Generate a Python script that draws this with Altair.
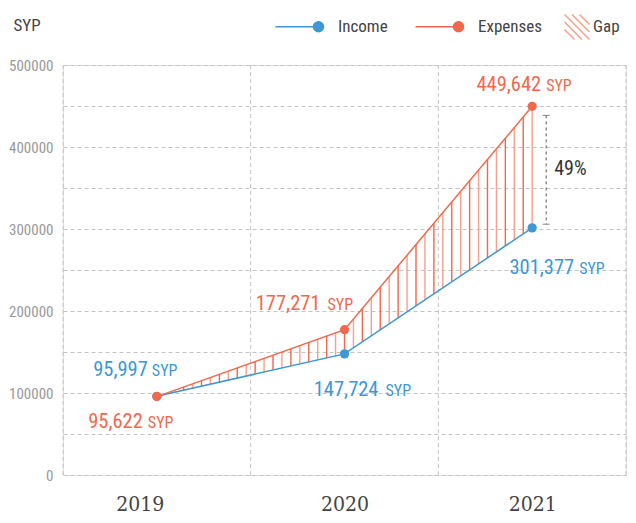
import altair as alt
import pandas as pd
import numpy as np

# ---------------- data ----------------
years = [2019, 2020, 2021]
income = [95997, 147724, 301377]
expenses = [95622, 177271, 449642]
series_names = ["Income", "Expenses", "Gap"]
y_ticks = list(range(0, 500001, 50000))

# ---------------- style ----------------
BLUE = "#3d98d3"
RED = "#f2684c"
SALMON = "#f7a08b"
GRID = "#c4c4c4"
NARROW = "Liberation Sans Narrow, Roboto Condensed, Roboto, sans-serif"
SLAB = "DejaVu Serif Condensed, DejaVu Serif, serif"
W, H = 563, 410

wide = pd.DataFrame({"year": years, "income": income, "expenses": expenses})
long = pd.concat([
    pd.DataFrame({"year": years, "value": income, "series": "Income"}),
    pd.DataFrame({"year": years, "value": expenses, "series": "Expenses"}),
], ignore_index=True)

# hatch decoration derived from the two series
steps_per_year = 21
hx = np.linspace(years[0], years[-1], steps_per_year * (len(years) - 1) + 1)[1:]
hatch = pd.DataFrame({
    "x": hx,
    "lo": np.interp(hx, years, income),
    "hi": np.interp(hx, years, expenses),
    "k": np.arange(len(hx)) % 2,
})

bounds = [y - 0.5 for y in years] + [years[-1] + 0.5]
vgrid = pd.DataFrame({"b": bounds})
legend_df = pd.DataFrame({"series": series_names})

x_scale = alt.Scale(domain=[bounds[0], bounds[-1]], nice=False, zero=False)
y_scale = alt.Scale(domain=[0, 500000], nice=False)

x_axis = alt.Axis(values=years, format="d", grid=False, ticks=False, domain=False,
                  labelFont=SLAB, labelFontSize=21, labelColor="#444",
                  labelPadding=18, title=None,
                  labelOffset={"condition": {"test": f"datum.value == {years[0]}", "value": -17},
                               "value": 0})
y_axis = alt.Axis(values=y_ticks, grid=True, gridDash=[4, 3], gridColor=GRID,
                  ticks=False, domain=False,
                  labelExpr="datum.value % 100000 == 0 ? datum.value : ''",
                  labelFont=NARROW, labelFontSize=15, labelColor="#999",
                  labelPadding=10,
                  title="SYP", titleAngle=0, titleAlign="left",
                  titleBaseline="alphabetic", titleX=-50, titleY=-35,
                  titleFont=NARROW, titleFontSize=17, titleFontWeight="normal",
                  titleColor="#444")


def X(field):
    return alt.X(field, type="quantitative", scale=x_scale, axis=x_axis)


def Y(field):
    return alt.Y(field, type="quantitative", scale=y_scale, axis=y_axis)


# vertical dashed grid at band boundaries
grid_layer = alt.Chart(vgrid).mark_rule(strokeDash=[4, 3], color=GRID, strokeWidth=1).encode(
    x=X("b")
)

# hatch
hatch_dark = alt.Chart(hatch).transform_filter("datum.k == 0").mark_rule(
    color=RED, strokeWidth=1.4).encode(x=X("x"), y=Y("lo"), y2="hi")
hatch_light = alt.Chart(hatch).transform_filter("datum.k == 1").mark_rule(
    color=SALMON, strokeWidth=1.4).encode(x=X("x"), y=Y("lo"), y2="hi")

color_enc = alt.Color("series:N", scale=alt.Scale(domain=["Income", "Expenses"], range=[BLUE, RED]),
                      legend=None)

lines = alt.Chart(long).mark_line(strokeWidth=1.5).encode(
    x=X("year"), y=Y("value"), color=color_enc, detail="series:N",
    order=alt.Order("year:Q"))
points = alt.Chart(long).mark_circle(size=85, opacity=1).encode(
    x=X("year"), y=Y("value"), color=color_enc)

# value labels: (series, year, dx number, dx unit, dy)
label_specs = [
    ("Income", 2019, -9, -5, -20),
    ("Expenses", 2019, -14, -9, 31),
    ("Expenses", 2020, -24, -17, -20),
    ("Income", 2020, 34, 41, 42),
    ("Expenses", 2021, 9, 14, -15),
    ("Income", 2021, 42, 47, 46),
]
label_layers = []
for s, yr, dxn, dxu, dy in label_specs:
    col = BLUE if s == "Income" else RED
    base = alt.Chart(long).transform_filter(
        f"datum.series == '{s}' && datum.year == {yr}")
    label_layers.append(base.mark_text(align="right", baseline="alphabetic", dx=dxn, dy=dy,
                                       font=NARROW, fontSize=20.5, color=col).encode(
        x=X("year"), y=Y("value"), text=alt.Text("value:Q", format=",")))
    label_layers.append(base.mark_text(align="left", baseline="alphabetic", dx=dxu, dy=dy,
                                       font=NARROW, fontSize=16, color=col).encode(
        x=X("year"), y=Y("value"), text=alt.value("SYP")))

# gap bracket and percentage for the last year
last = alt.Chart(wide).transform_filter(f"datum.year == {years[-1]}").transform_calculate(
    top="datum.expenses - (datum.expenses - datum.income) * 0.075",
    bot="datum.income + (datum.expenses - datum.income) * 0.03",
    mid="(datum.expenses + datum.income) / 2",
    pct="(datum.expenses - datum.income) / datum.income",
)
bracket = last.mark_rule(strokeDash=[3, 3], color="#555", strokeWidth=1, xOffset=14).encode(
    x=X("year"), y=Y("top:Q"), y2="bot:Q")
cap_top = last.mark_tick(orient="horizontal", size=7, thickness=1, color="#555", xOffset=14).encode(
    x=X("year"), y=Y("top:Q"))
cap_bot = last.mark_tick(orient="horizontal", size=7, thickness=1, color="#555", xOffset=14).encode(
    x=X("year"), y=Y("bot:Q"))
pct_text = last.mark_text(align="left", baseline="middle", dx=22, dy=2, font=NARROW,
                          fontSize=20, color="#333").encode(
    x=X("year"), y=Y("mid:Q"), text=alt.Text("pct:Q", format=".0%"))

# legend (symbols drawn as custom paths, unit = 5px)
pad_box = "M-9.6,-2.6L-9.6,-2.6M-9.6,2.6L-9.6,2.6"  # invisible extent points
path_line = "M-8.6,0L0,0M-1,0A1,1,0,1,0,1,0A1,1,0,1,0,-1,0Z" + pad_box
hatch_parts = []
for c in (-3.0, -1.5, 0.0, 1.5, 3.0):
    u0, u1 = max(-2.5, c - 2.5), min(2.5, c + 2.5)
    hatch_parts.append(f"M{u0 + 0.7:.2f},{u0 - c:.2f}L{u1 + 0.7:.2f},{u1 - c:.2f}")
path_hatch = "".join(hatch_parts)

leg = alt.Legend(title=None, orient="none", legendX=247, legendY=-47, direction="horizontal",
                 symbolSize=100, symbolStrokeWidth=1.5, symbolOpacity=1,
                 labelFont=NARROW, labelFontSize=17, labelColor="#444",
                 labelOffset=11, columnPadding=19)
legend_layer = alt.Chart(legend_df).mark_point(opacity=0).encode(
    x=alt.value(0), y=alt.value(0),
    shape=alt.Shape("series:N", scale=alt.Scale(domain=series_names,
                                                range=[path_line, path_line, path_hatch]), legend=leg),
    fill=alt.Fill("series:N", scale=alt.Scale(domain=series_names,
                                              range=[BLUE, RED, "transparent"]), legend=leg),
    stroke=alt.Stroke("series:N", scale=alt.Scale(domain=series_names,
                                                  range=[BLUE, RED, SALMON]), legend=leg),
)

chart = alt.layer(
    grid_layer, hatch_dark, hatch_light, lines, points, *label_layers,
    bracket, cap_top, cap_bot, pct_text, legend_layer,
).resolve_scale(color="independent").properties(
    width=W, height=H,
    autosize=alt.AutoSizeParams(type="none"),
    padding={"left": 55, "top": 57, "right": 2, "bottom": 40},
).configure_view(stroke=None).configure(background="white")

chart.save("out.html", embed_options={"renderer": "svg", "actions": False})
